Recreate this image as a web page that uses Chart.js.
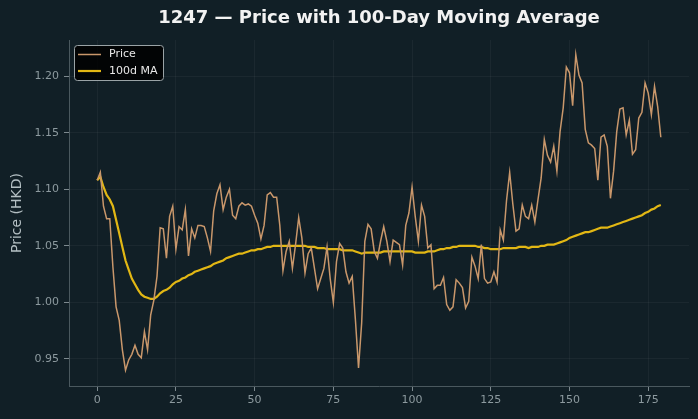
<!DOCTYPE html>
<html>
<head>
<meta charset="utf-8">
<script src="https://cdn.jsdelivr.net/npm/chart.js@4.4.0/dist/chart.umd.min.js"></script>
<style>
  html, body { margin: 0; padding: 0; background: #111f26; }
  #wrap { width: 698px; height: 419px; }
</style>
</head>
<body>
<div id="wrap"><canvas id="priceChart" width="698" height="419"></canvas></div>
<script>
// ==========================
// 1247 — price vs 100-day MA
// ==========================

const price = [
    1.108, 1.115, 1.085, 1.074, 1.074, 1.031, 0.996, 0.984, 0.958, 0.940,
    0.949, 0.954, 0.962, 0.954, 0.951, 0.974, 0.958, 0.989, 1.002, 1.023,
    1.066, 1.065, 1.039, 1.076, 1.085, 1.047, 1.067, 1.064, 1.082, 1.041,
    1.065, 1.057, 1.068, 1.068, 1.067, 1.057, 1.045, 1.081, 1.096, 1.104,
    1.082, 1.093, 1.100, 1.077, 1.074, 1.085, 1.088, 1.086, 1.087, 1.085,
    1.077, 1.070, 1.056, 1.068, 1.095, 1.097, 1.093, 1.093, 1.068, 1.028,
    1.045, 1.054, 1.030, 1.051, 1.075, 1.057, 1.026, 1.043, 1.048, 1.030,
    1.012, 1.021, 1.030, 1.049, 1.021, 1.000, 1.036, 1.052, 1.048, 1.027,
    1.017, 1.023, 0.985, 0.942, 0.982, 1.054, 1.069, 1.065, 1.045, 1.039,
    1.054, 1.067, 1.054, 1.036, 1.055, 1.053, 1.051, 1.033, 1.068, 1.079,
    1.102, 1.076, 1.054, 1.086, 1.076, 1.048, 1.051, 1.012, 1.015, 1.015,
    1.022, 0.998, 0.993, 0.996, 1.020, 1.017, 1.013, 0.995, 1.001, 1.040,
    1.032, 1.021, 1.051, 1.021, 1.017, 1.018, 1.027, 1.018, 1.064, 1.055,
    1.090, 1.115, 1.087, 1.063, 1.065, 1.086, 1.076, 1.074, 1.086, 1.071,
    1.091, 1.110, 1.144, 1.130, 1.124, 1.138, 1.116, 1.151, 1.172, 1.208,
    1.203, 1.174, 1.219, 1.201, 1.194, 1.153, 1.141, 1.139, 1.136, 1.108,
    1.146, 1.148, 1.138, 1.092, 1.116, 1.151, 1.171, 1.172, 1.148, 1.161,
    1.131, 1.135, 1.163, 1.168, 1.194, 1.185, 1.166, 1.191, 1.173, 1.146
];

const ma100 = [
    1.108, 1.111, 1.102, 1.095, 1.091, 1.085, 1.073, 1.061, 1.049, 1.037,
    1.029, 1.021, 1.016, 1.011, 1.007, 1.005, 1.004, 1.003, 1.003, 1.005,
    1.008, 1.010, 1.011, 1.013, 1.016, 1.018, 1.019, 1.021, 1.022, 1.024,
    1.025, 1.027, 1.028, 1.029, 1.030, 1.031, 1.032, 1.034, 1.035, 1.036,
    1.037, 1.039, 1.040, 1.041, 1.042, 1.043, 1.043, 1.044, 1.045, 1.046,
    1.046, 1.047, 1.047, 1.048, 1.049, 1.049, 1.050, 1.050, 1.050, 1.050,
    1.050, 1.050, 1.050, 1.050, 1.050, 1.050, 1.050, 1.049, 1.049, 1.049,
    1.048, 1.048, 1.048, 1.047, 1.047, 1.047, 1.047, 1.047, 1.046, 1.046,
    1.046, 1.046, 1.045, 1.044, 1.043, 1.044, 1.044, 1.044, 1.044, 1.044,
    1.044, 1.045, 1.045, 1.045, 1.045, 1.045, 1.045, 1.045, 1.045, 1.045,
    1.045, 1.044, 1.044, 1.044, 1.044, 1.045, 1.045, 1.045, 1.046, 1.047,
    1.047, 1.048, 1.048, 1.049, 1.049, 1.050, 1.050, 1.050, 1.050, 1.050,
    1.050, 1.049, 1.049, 1.048, 1.048, 1.047, 1.047, 1.047, 1.047, 1.048,
    1.048, 1.048, 1.048, 1.048, 1.049, 1.049, 1.049, 1.048, 1.049, 1.049,
    1.049, 1.050, 1.050, 1.051, 1.051, 1.051, 1.052, 1.053, 1.054, 1.055,
    1.057, 1.058, 1.059, 1.060, 1.061, 1.062, 1.062, 1.063, 1.064, 1.065,
    1.066, 1.066, 1.066, 1.067, 1.068, 1.069, 1.070, 1.071, 1.072, 1.073,
    1.074, 1.075, 1.076, 1.077, 1.079, 1.080, 1.082, 1.083, 1.085, 1.086
];

// day index along the x axis
const days = price.map((_, i) => i);

const xTicks = [0, 25, 50, 75, 100, 125, 150, 175];
const yTicks = [0.95, 1.00, 1.05, 1.10, 1.15, 1.20];

const seriesLabels = ["Price", "100d MA"];
const chartTitle = "1247 — Price with 100-Day Moving Average";


const BG = "#111f26";
const FONT = "'DejaVu Sans', sans-serif";

const bgPlugin = {
    id: "bg",
    beforeDraw(chart) {
        const c = chart.ctx;
        c.save();
        c.fillStyle = BG;
        c.fillRect(0, 0, chart.width, chart.height);
        c.restore();
    }
};

const titlePlugin = {
    id: "topTitle",
    afterDraw(chart) {
        const c = chart.ctx;
        const a = chart.chartArea;
        c.save();
        c.fillStyle = "#f2f2f2";
        c.font = "bold 18px " + FONT;
        c.textAlign = "center";
        c.textBaseline = "middle";
        c.fillText(chartTitle, (a.left + a.right) / 2, 18);
        c.restore();
    }
};

// legend box drawn inside the plot, top left
const legendPlugin = {
    id: "boxLegend",
    afterDatasetsDraw(chart) {
        const c = chart.ctx;
        const x = 74, y = 45, w = 89, h = 35, r = 3;
        c.save();
        c.beginPath();
        c.roundRect(x + 0.5, y + 0.5, w, h, r);
        c.fillStyle = "rgba(0,0,0,0.85)";
        c.fill();
        c.strokeStyle = "#9aa3a6";
        c.lineWidth = 1;
        c.stroke();

        c.font = "11px " + FONT;
        c.textBaseline = "middle";
        chart.data.datasets.forEach((ds, i) => {
            const ly = y + 9.5 + i * 16.5;
            c.beginPath();
            c.moveTo(x + 4, ly);
            c.lineTo(x + 27, ly);
            c.strokeStyle = ds.borderColor;
            c.lineWidth = ds.borderWidth;
            c.stroke();
            c.fillStyle = "#e8e8e8";
            c.fillText(ds.label, x + 35, ly);
        });
        c.restore();
    }
};


const ctx = document.querySelector("#priceChart").getContext("2d");

new Chart(ctx, {

    type: "line",

    data: {
        datasets: [
            {
                label: seriesLabels[0],
                data: days.map((d, i) => ({ x: d, y: price[i] })),
                borderColor: "#c9976b",
                borderWidth: 1.5,
                pointRadius: 0,
                tension: 0
            },
            {
                label: seriesLabels[1],
                data: days.map((d, i) => ({ x: d, y: ma100[i] })),
                borderColor: "#e2b714",
                borderWidth: 2.2,
                pointRadius: 0,
                tension: 0
            }
        ]
    },

    options: {
        responsive: false,
        animation: false,
        events: [],
        layout: {
            padding: { left: 0, right: 9, top: 40, bottom: 0 }
        },
        plugins: {
            legend: { display: false },
            title: { display: false },
            tooltip: { enabled: false }
        },
        scales: {
            x: {
                type: "linear",
                min: -8.95,
                max: 187.95,
                afterBuildTicks(scale) {
                    scale.ticks = xTicks.map(v => ({ value: v }));
                },
                afterFit(scale) {
                    scale.height = 33;
                },
                ticks: {
                    color: "#8d9a9f",
                    font: { family: FONT, size: 11 },
                    padding: 3,
                    maxRotation: 0,
                    callback: v => String(v)
                },
                grid: {
                    color: "rgba(255,255,255,0.045)",
                    tickColor: "#7d898e",
                    tickLength: 5
                },
                border: { color: "#4a585e", width: 1 }
            },
            y: {
                min: 0.926,
                max: 1.232,
                afterBuildTicks(scale) {
                    scale.ticks = yTicks.map(v => ({ value: v }));
                },
                afterFit(scale) {
                    scale.width = 69;
                },
                ticks: {
                    color: "#8d9a9f",
                    font: { family: FONT, size: 11 },
                    padding: 5,
                    callback: v => v.toFixed(2)
                },
                grid: {
                    color: "rgba(255,255,255,0.045)",
                    tickColor: "#7d898e",
                    tickLength: 5
                },
                border: { color: "#4a585e", width: 1 },
                title: {
                    display: true,
                    text: "Price (HKD)",
                    color: "#b4bfc3",
                    font: { family: FONT, size: 14 },
                    padding: { top: 9, bottom: 0 }
                }
            }
        }
    },

    plugins: [bgPlugin, legendPlugin, titlePlugin]

});
</script>
</body>
</html>
